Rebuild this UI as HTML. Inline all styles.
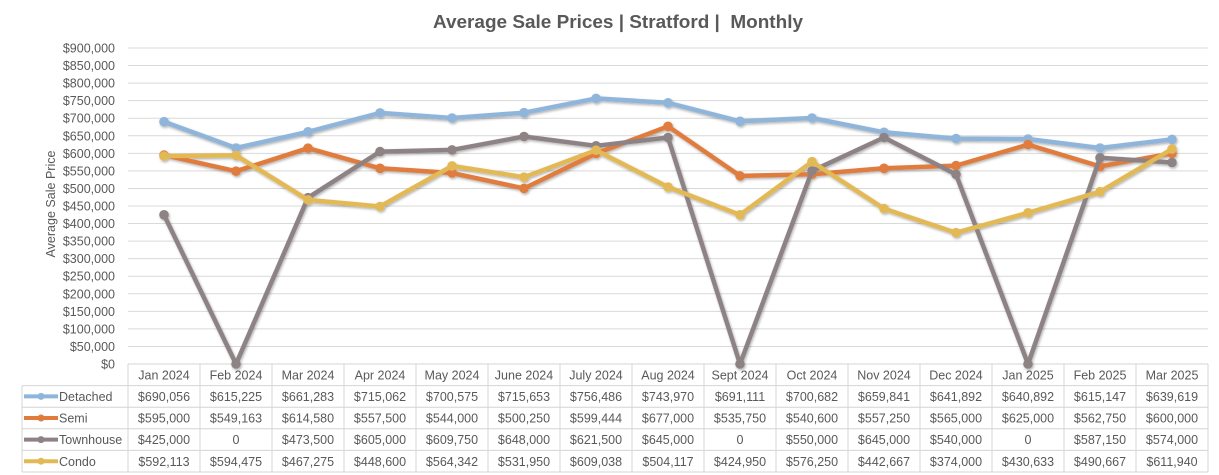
<!DOCTYPE html>
<html><head><meta charset="utf-8">
<style>
html,body{margin:0;padding:0;background:#fff;}
svg{display:block;}
text{font-family:"Liberation Sans",Arial,sans-serif;fill:#595959;}
</style></head>
<body>
<svg width="1219" height="475" viewBox="0 0 1219 475" xmlns="http://www.w3.org/2000/svg">
<defs>
<filter id="sh" x="-5%" y="-5%" width="110%" height="110%">
<feDropShadow dx="1" dy="1.5" stdDeviation="1.2" flood-color="#000" flood-opacity="0.3"/>
</filter>
</defs>
<rect width="1219" height="475" fill="#fff"/>
<text x="618" y="28" font-size="18" font-weight="bold" text-anchor="middle" textLength="370" lengthAdjust="spacingAndGlyphs" xml:space="preserve" style="white-space:pre">Average Sale Prices | Stratford |  Monthly</text>

<!-- gridlines -->
<g stroke="#d9d9d9" stroke-width="1">
<line x1="128" x2="1208" y1="48" y2="48"/>
<line x1="128" x2="1208" y1="65.56" y2="65.56"/>
<line x1="128" x2="1208" y1="83.11" y2="83.11"/>
<line x1="128" x2="1208" y1="100.67" y2="100.67"/>
<line x1="128" x2="1208" y1="118.22" y2="118.22"/>
<line x1="128" x2="1208" y1="135.78" y2="135.78"/>
<line x1="128" x2="1208" y1="153.33" y2="153.33"/>
<line x1="128" x2="1208" y1="170.89" y2="170.89"/>
<line x1="128" x2="1208" y1="188.44" y2="188.44"/>
<line x1="128" x2="1208" y1="206" y2="206"/>
<line x1="128" x2="1208" y1="223.56" y2="223.56"/>
<line x1="128" x2="1208" y1="241.11" y2="241.11"/>
<line x1="128" x2="1208" y1="258.67" y2="258.67"/>
<line x1="128" x2="1208" y1="276.22" y2="276.22"/>
<line x1="128" x2="1208" y1="293.78" y2="293.78"/>
<line x1="128" x2="1208" y1="311.33" y2="311.33"/>
<line x1="128" x2="1208" y1="328.89" y2="328.89"/>
<line x1="128" x2="1208" y1="346.44" y2="346.44"/>
</g>

<!-- y tick labels -->
<g font-size="12.5" text-anchor="end">
<text x="115" y="52.5">$900,000</text>
<text x="115" y="70">$850,000</text>
<text x="115" y="87.6">$800,000</text>
<text x="115" y="105.2">$750,000</text>
<text x="115" y="122.7">$700,000</text>
<text x="115" y="140.3">$650,000</text>
<text x="115" y="157.8">$600,000</text>
<text x="115" y="175.4">$550,000</text>
<text x="115" y="192.9">$500,000</text>
<text x="115" y="210.5">$450,000</text>
<text x="115" y="228">$400,000</text>
<text x="115" y="245.6">$350,000</text>
<text x="115" y="263.2">$300,000</text>
<text x="115" y="280.7">$250,000</text>
<text x="115" y="298.3">$200,000</text>
<text x="115" y="315.8">$150,000</text>
<text x="115" y="333.4">$100,000</text>
<text x="115" y="350.9">$50,000</text>
<text x="115" y="368.5">$0</text>
</g>
<text transform="translate(55,204) rotate(-90)" font-size="12.5" text-anchor="middle" textLength="107" lengthAdjust="spacingAndGlyphs">Average Sale Price</text>

<!-- table -->
<g stroke="#d4d4d4" stroke-width="1" fill="none">
<line x1="128" x2="1208" y1="364" y2="364"/>
<line x1="22" x2="1208" y1="385.6" y2="385.6"/>
<line x1="22" x2="1208" y1="407.2" y2="407.2"/>
<line x1="22" x2="1208" y1="428.8" y2="428.8"/>
<line x1="22" x2="1208" y1="450.4" y2="450.4"/>
<line x1="22" x2="1208" y1="472" y2="472"/>
<line x1="22" x2="22" y1="385.6" y2="472"/>
<line x1="128" x2="128" y1="364" y2="472"/>
<line x1="200" x2="200" y1="364" y2="472"/>
<line x1="272" x2="272" y1="364" y2="472"/>
<line x1="344" x2="344" y1="364" y2="472"/>
<line x1="416" x2="416" y1="364" y2="472"/>
<line x1="488" x2="488" y1="364" y2="472"/>
<line x1="560" x2="560" y1="364" y2="472"/>
<line x1="632" x2="632" y1="364" y2="472"/>
<line x1="704" x2="704" y1="364" y2="472"/>
<line x1="776" x2="776" y1="364" y2="472"/>
<line x1="848" x2="848" y1="364" y2="472"/>
<line x1="920" x2="920" y1="364" y2="472"/>
<line x1="992" x2="992" y1="364" y2="472"/>
<line x1="1064" x2="1064" y1="364" y2="472"/>
<line x1="1136" x2="1136" y1="364" y2="472"/>
<line x1="1208" x2="1208" y1="364" y2="472"/>
</g>

<!-- series lines -->
<g fill="none" stroke-width="4.5" stroke-linejoin="round" stroke-linecap="round" filter="url(#sh)">
<polyline stroke="#90b5da" points="164,121.7 236,148 308,131.8 380,112.9 452,118 524,112.7 596,98.4 668,102.8 740,121.3 812,118 884,132.3 956,138.6 1028,139 1100,148 1172,139.4"/>
<g fill="#90b5da" stroke="none">
<circle cx="164" cy="121.7" r="4.8"/><circle cx="236" cy="148" r="4.8"/><circle cx="308" cy="131.8" r="4.8"/><circle cx="380" cy="112.9" r="4.8"/><circle cx="452" cy="118" r="4.8"/><circle cx="524" cy="112.7" r="4.8"/><circle cx="596" cy="98.4" r="4.8"/><circle cx="668" cy="102.8" r="4.8"/><circle cx="740" cy="121.3" r="4.8"/><circle cx="812" cy="118" r="4.8"/><circle cx="884" cy="132.3" r="4.8"/><circle cx="956" cy="138.6" r="4.8"/><circle cx="1028" cy="139" r="4.8"/><circle cx="1100" cy="148" r="4.8"/><circle cx="1172" cy="139.4" r="4.8"/>
</g>
<polyline stroke="#e07b3c" points="164,155.1 236,171.2 308,148.2 380,168.3 452,173 524,188.4 596,153.5 668,126.3 740,175.9 812,174.2 884,168.3 956,165.6 1028,144.6 1100,166.4 1172,153.3"/>
<g fill="#e07b3c" stroke="none">
<circle cx="164" cy="155.1" r="4.8"/><circle cx="236" cy="171.2" r="4.8"/><circle cx="308" cy="148.2" r="4.8"/><circle cx="380" cy="168.3" r="4.8"/><circle cx="452" cy="173" r="4.8"/><circle cx="524" cy="188.4" r="4.8"/><circle cx="596" cy="153.5" r="4.8"/><circle cx="668" cy="126.3" r="4.8"/><circle cx="740" cy="175.9" r="4.8"/><circle cx="812" cy="174.2" r="4.8"/><circle cx="884" cy="168.3" r="4.8"/><circle cx="956" cy="165.6" r="4.8"/><circle cx="1028" cy="144.6" r="4.8"/><circle cx="1100" cy="166.4" r="4.8"/><circle cx="1172" cy="153.3" r="4.8"/>
</g>
<polyline stroke="#8d8384" points="164,214.8 236,364 308,197.7 380,151.6 452,149.9 524,136.5 596,145.8 668,137.5 740,364 812,170.9 884,137.5 956,174.4 1028,364 1100,157.8 1172,162.5"/>
<g fill="#8d8384" stroke="none">
<circle cx="164" cy="214.8" r="4.8"/><circle cx="236" cy="364" r="4.8"/><circle cx="308" cy="197.7" r="4.8"/><circle cx="380" cy="151.6" r="4.8"/><circle cx="452" cy="149.9" r="4.8"/><circle cx="524" cy="136.5" r="4.8"/><circle cx="596" cy="145.8" r="4.8"/><circle cx="668" cy="137.5" r="4.8"/><circle cx="740" cy="364" r="4.8"/><circle cx="812" cy="170.9" r="4.8"/><circle cx="884" cy="137.5" r="4.8"/><circle cx="956" cy="174.4" r="4.8"/><circle cx="1028" cy="364" r="4.8"/><circle cx="1100" cy="157.8" r="4.8"/><circle cx="1172" cy="162.5" r="4.8"/>
</g>
<polyline stroke="#e2b955" points="164,156.1 236,155.3 308,199.9 380,206.5 452,165.9 524,177.2 596,150.2 668,187 740,214.8 812,161.7 884,208.6 956,232.7 1028,212.8 1100,191.7 1172,149.1"/>
<g fill="#e2b955" stroke="none">
<circle cx="164" cy="156.1" r="4.8"/><circle cx="236" cy="155.3" r="4.8"/><circle cx="308" cy="199.9" r="4.8"/><circle cx="380" cy="206.5" r="4.8"/><circle cx="452" cy="165.9" r="4.8"/><circle cx="524" cy="177.2" r="4.8"/><circle cx="596" cy="150.2" r="4.8"/><circle cx="668" cy="187" r="4.8"/><circle cx="740" cy="214.8" r="4.8"/><circle cx="812" cy="161.7" r="4.8"/><circle cx="884" cy="208.6" r="4.8"/><circle cx="956" cy="232.7" r="4.8"/><circle cx="1028" cy="212.8" r="4.8"/><circle cx="1100" cy="191.7" r="4.8"/><circle cx="1172" cy="149.1" r="4.8"/>
</g>
</g>

<!-- legend keys -->
<g stroke-width="4" stroke-linecap="butt">
<line x1="24" x2="58" y1="396.4" y2="396.4" stroke="#90b5da"/><circle cx="41" cy="396.4" r="3.5" fill="#90b5da"/>
<line x1="24" x2="58" y1="418" y2="418" stroke="#e07b3c"/><circle cx="41" cy="418" r="3.5" fill="#e07b3c"/>
<line x1="24" x2="58" y1="439.6" y2="439.6" stroke="#8d8384"/><circle cx="41" cy="439.6" r="3.5" fill="#8d8384"/>
<line x1="24" x2="58" y1="461.2" y2="461.2" stroke="#e2b955"/><circle cx="41" cy="461.2" r="3.5" fill="#e2b955"/>
</g>
<g font-size="12.5">
<text x="59" y="401">Detached</text>
<text x="59" y="422.6">Semi</text>
<text x="59" y="444.2">Townhouse</text>
<text x="59" y="465.8">Condo</text>
</g>

<!-- table text -->
<g font-size="12.5" text-anchor="middle">
<text x="164" y="379.3">Jan 2024</text><text x="236" y="379.3">Feb 2024</text><text x="308" y="379.3">Mar 2024</text><text x="380" y="379.3">Apr 2024</text><text x="452" y="379.3">May 2024</text><text x="524" y="379.3">June 2024</text><text x="596" y="379.3">July 2024</text><text x="668" y="379.3">Aug 2024</text><text x="740" y="379.3">Sept 2024</text><text x="812" y="379.3">Oct 2024</text><text x="884" y="379.3">Nov 2024</text><text x="956" y="379.3">Dec 2024</text><text x="1028" y="379.3">Jan 2025</text><text x="1100" y="379.3">Feb 2025</text><text x="1172" y="379.3">Mar 2025</text>

<text x="164" y="401">$690,056</text><text x="236" y="401">$615,225</text><text x="308" y="401">$661,283</text><text x="380" y="401">$715,062</text><text x="452" y="401">$700,575</text><text x="524" y="401">$715,653</text><text x="596" y="401">$756,486</text><text x="668" y="401">$743,970</text><text x="740" y="401">$691,111</text><text x="812" y="401">$700,682</text><text x="884" y="401">$659,841</text><text x="956" y="401">$641,892</text><text x="1028" y="401">$640,892</text><text x="1100" y="401">$615,147</text><text x="1172" y="401">$639,619</text>

<text x="164" y="422.6">$595,000</text><text x="236" y="422.6">$549,163</text><text x="308" y="422.6">$614,580</text><text x="380" y="422.6">$557,500</text><text x="452" y="422.6">$544,000</text><text x="524" y="422.6">$500,250</text><text x="596" y="422.6">$599,444</text><text x="668" y="422.6">$677,000</text><text x="740" y="422.6">$535,750</text><text x="812" y="422.6">$540,600</text><text x="884" y="422.6">$557,250</text><text x="956" y="422.6">$565,000</text><text x="1028" y="422.6">$625,000</text><text x="1100" y="422.6">$562,750</text><text x="1172" y="422.6">$600,000</text>

<text x="164" y="444.2">$425,000</text><text x="236" y="444.2">0</text><text x="308" y="444.2">$473,500</text><text x="380" y="444.2">$605,000</text><text x="452" y="444.2">$609,750</text><text x="524" y="444.2">$648,000</text><text x="596" y="444.2">$621,500</text><text x="668" y="444.2">$645,000</text><text x="740" y="444.2">0</text><text x="812" y="444.2">$550,000</text><text x="884" y="444.2">$645,000</text><text x="956" y="444.2">$540,000</text><text x="1028" y="444.2">0</text><text x="1100" y="444.2">$587,150</text><text x="1172" y="444.2">$574,000</text>

<text x="164" y="465.8">$592,113</text><text x="236" y="465.8">$594,475</text><text x="308" y="465.8">$467,275</text><text x="380" y="465.8">$448,600</text><text x="452" y="465.8">$564,342</text><text x="524" y="465.8">$531,950</text><text x="596" y="465.8">$609,038</text><text x="668" y="465.8">$504,117</text><text x="740" y="465.8">$424,950</text><text x="812" y="465.8">$576,250</text><text x="884" y="465.8">$442,667</text><text x="956" y="465.8">$374,000</text><text x="1028" y="465.8">$430,633</text><text x="1100" y="465.8">$490,667</text><text x="1172" y="465.8">$611,940</text>
</g>
</svg>
</body></html>
